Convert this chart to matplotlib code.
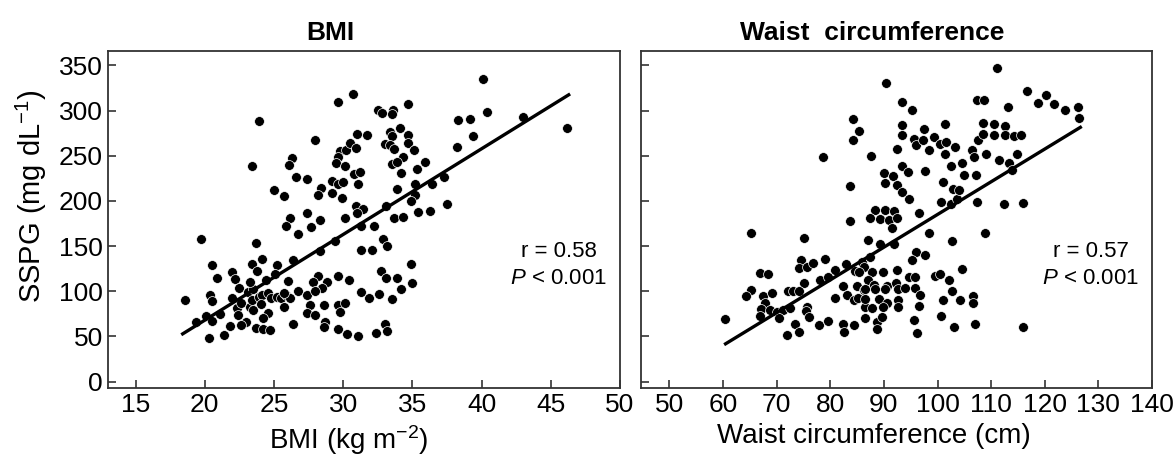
import matplotlib
matplotlib.use("Agg")
import matplotlib.pyplot as plt
from matplotlib import font_manager

# ---- data ----
# BMI panel (x in kg m-2, y = SSPG in mg/dL)
bmi_x = [23.9, 23.4, 26.3, 26.1, 26.6, 25.0, 25.7,
         40.1, 40.4, 39.2, 38.3, 39.4, 38.2, 30.7, 29.6, 34.7, 32.5, 32.8, 33.6, 33.5,
         34.1, 33.4, 33.5, 34.7, 34.7, 31.0, 31.7, 33.0, 33.4, 33.7, 35.1, 28.0, 29.8,
         30.2, 30.5, 30.9, 29.6, 29.5, 30.1, 34.3, 35.9, 33.5, 33.9, 34.2, 35.3, 30.8,
         31.2, 27.4, 28.4, 28.2, 29.2, 29.6, 30.0, 31.1, 29.2, 29.9, 33.9, 35.2, 36.4,
         37.3, 35.2, 34.9, 43.0, 46.2,
         26.15, 25.9, 26.75, 19.7, 23.7, 24.15, 23.4, 23.8, 25.25, 25.1, 26.4, 26.0,
         20.5, 20.9, 22.0, 22.2, 22.5, 24.4, 23.1, 23.5, 20.4, 20.5, 18.6, 22.0, 22.3,
         22.4, 22.65, 23.26, 23.4, 23.9, 24.1, 24.05, 24.6, 24.8, 25.2, 25.5, 25.9,
         26.15, 25.7, 24.6, 24.2, 23.0, 22.65, 21.8, 21.4, 20.3, 20.1, 20.5, 19.4,
         21.1, 23.7, 24.2, 24.7, 26.4, 23.5, 23.3, 25.7,
         27.4, 27.7, 28.3, 30.1, 30.9, 31.4, 31.0, 33.1, 33.7, 34.3, 35.4, 36.3, 37.5,
         29.4, 28.3, 31.3, 32.2, 32.9, 33.2, 31.3, 32.1, 34.9, 35.0, 32.7, 33.1, 33.9,
         34.2, 31.3, 31.9, 32.6, 33.5, 29.6, 30.4, 28.2, 27.8, 28.8, 28.5, 26.75, 27.4,
         28.0, 27.6, 28.6, 27.4, 28.0, 29.6, 30.1, 29.8, 28.7, 28.6, 29.6, 30.3, 31.1,
         32.4, 33.0, 33.2]
bmi_y = [288.5, 239, 248, 239.5, 226.5, 211.8, 205.2,
         335.3, 298.4, 291, 289, 271.5, 259.7, 318.7, 309.5, 307, 300.3, 297.3, 300.3, 295.9,
         280.8, 276.3, 271.5, 272.6, 264.2, 274.5, 272.6, 263.4, 261.6, 257.9, 256.8, 267.1, 255.3,
         256, 264.2, 259, 248.7, 242, 238.3, 248.7, 243.1, 241.3, 243, 231, 235.8, 230.2,
         232, 224, 214.7, 207, 222.1, 218.4, 221, 219.2, 208.8, 203.7, 213.6, 218.4, 218.4,
         226.5, 206.3, 200, 292.6, 280.5,
         181, 172.5, 163, 158, 153.5, 136, 129.7, 122.4, 128.6, 119.5, 134, 111,
         129.4, 115, 121, 114, 104, 112, 98.6, 102, 95.7, 89.5, 90.2, 92, 81,
         73.8, 86.6, 83, 90.2, 94, 95.7, 85.8, 97.5, 93, 94, 93, 95.7,
         92, 82.2, 75.6, 70, 66.4, 62.8, 61, 51.8, 48.2, 72, 67.5, 65.4,
         74.5, 59, 58, 57.3, 63.5, 79, 110.3, 98.2,
         187, 171, 179, 181, 194.5, 191, 187, 194.5, 181, 182, 188, 189, 197,
         156, 144, 172.5, 172.5, 158, 149.5, 146, 146, 130, 109, 122, 115, 115,
         102, 99, 93, 97, 91.5, 116.6, 112, 116.6, 110, 110, 104, 100.5, 96,
         100.5, 85, 85, 76, 74, 85, 87, 77.4, 66, 60, 58, 53, 50,
         54, 64, 55.5]
bmi_fit_x = [18.3, 46.4]
bmi_fit_y = [51.8, 318.4]

# Waist panel (x in cm, y = SSPG in mg/dL)
waist_x = [78.6, 83.7, 84.3, 84.3, 85.4, 87.5, 90.0, 90.2, 90.3, 91.7, 92.4, 92.4, 93.3,
           93.4, 93.4, 93.4, 93.4, 94.4, 94.6, 95.3, 95.7, 95.9, 97.2, 97.5, 97.7, 98.5,
           99.4, 100.5, 100.6, 101.4, 101.4, 101.1, 101.6, 102.5, 102.6, 102.8, 103.3,
           103.7, 104.0, 104.6, 104.9, 106.4, 106.8, 107.1, 107.4, 107.4, 108.7, 107.6,
           108.5, 108.5, 109.1, 110.6, 110.5, 111.0, 111.5, 112.6, 112.6, 112.4, 113.2,
           113.4, 113.9, 114.3, 115.6, 114.8, 116.0, 116.7, 118.7, 120.2, 121.8, 123.7,
           126.2, 126.4,
           60.4, 65.3, 83.7, 75.1, 66.8, 68.4, 74.5, 74.2, 75.6, 76.8, 79.1, 82.9, 80.8,
           85.9, 86.2, 84.6, 85.4, 75.0, 78.1, 79.6, 65.2, 64.3, 67.4, 69.2, 72.2, 73.1,
           74.2, 67.8, 67.1, 68.8, 70.0, 71.2, 72.5, 66.9, 70.4, 75.6, 75.4, 76.0, 73.4,
           71.9, 74.2, 77.9, 79.5, 80.9, 82.4, 83.1, 84.5, 85.2, 84.9, 86.2, 82.3, 82.6,
           84.5, 86.5,
           88.4, 90.2, 91.8, 87.4, 89.3, 90.9, 92.4, 91.5, 96.5, 98.4, 102.7, 108.8, 87.0,
           89.3, 91.8, 96.0, 95.2, 97.6, 87.4, 104.5, 99.6, 100.5, 102.2, 87.7, 89.9, 92.4,
           94.6, 95.8, 87.1, 88.1, 90.5, 92.2, 86.5, 88.4, 90.2, 92.7, 94.0, 95.8, 96.8,
           102.7, 101.1, 104.2, 106.7, 106.7, 86.5, 89.0, 90.5, 92.7, 87.7, 89.9, 92.7,
           96.5, 86.5, 88.7, 89.6, 88.7, 95.7, 96.1, 100.7, 103.0, 106.9, 115.9]
waist_y = [248.5, 216, 267.6, 290.8, 277.2, 249.6, 230.9, 219.9, 330, 227.2, 257.7, 217.3, 310,
           283.5, 272.4, 238.2, 209.9, 232, 202.6, 300.7, 268.8, 261.4, 266.9, 279.8, 233.1, 256.6,
           270.6, 263.2, 198.9, 284.6, 252.2, 221, 265, 196.3, 238.6, 213.6, 259.6,
           202.6, 211.8, 241.9, 228.3, 255.9, 248.5, 228.3, 198.9, 311.8, 311.8, 266.9,
           286, 274.3, 252.2, 285.3, 273.2, 346.7, 245.6, 282.4, 272.4, 197, 303.7,
           241.9, 234.6, 271.3, 273.2, 252.2, 198.2, 322, 308, 317.3, 307.4, 300.7,
           304.4, 291.9,
           68.7, 164.9, 177.8, 159.4, 120.7, 119.6, 135.1, 126.2, 126.9, 131.4, 136.2, 130.6, 124,
           132.5, 127, 122.5, 121.4, 109.2, 112.2, 115.2, 101.1, 94.5, 94.9, 97.5, 100.4, 100.4,
           100.4, 86.4, 79.8, 79, 77.2, 79, 80.9, 72.4, 69.8, 82.7, 77.9, 70.9, 63.5,
           51.4, 55.1, 62.4, 67.2, 93, 105.6, 95.6, 90.8, 93, 105.6, 101.1, 63.5, 55.1,
           62.4, 82.7,
           189.6, 190.4, 188.9, 181.5, 180.4, 179.3, 181.5, 170.5, 186.7, 164.9, 155.3, 164.9, 156.5,
           152.8, 152.8, 143.6, 135.1, 139.9, 138, 124.4, 116.6, 119.6, 112.2, 121.4, 121.4, 123.3,
           115.2, 115.9, 112.2, 106.7, 105.6, 109.3, 101.9, 101.9, 101.9, 101.9, 103, 103, 95.6,
           100.4, 90.8, 90.8, 94.5, 86.4, 91.9, 91.9, 87.1, 90.8, 80.9, 82, 82,
           83.4, 69.8, 66.1, 71.6, 58.7, 68, 54, 72.4, 59.9, 63.5, 59.9]
waist_fit_x = [60.2, 126.9]
waist_fit_y = [40.8, 282.4]

titles = ["BMI", "Waist  circumference"]
xlabels = [r"BMI (kg m$^{-2}$)", "Waist circumference (cm)"]
stats = [("0.58", "0.001"), ("0.57", "0.001")]
y_ticks = [0, 50, 100, 150, 200, 250, 300, 350]
bmi_ticks = [15, 20, 25, 30, 35, 40, 45, 50]
waist_ticks = [50, 60, 70, 80, 90, 100, 110, 120, 130, 140]

# ---- fonts ----
names = {f.name for f in font_manager.fontManager.ttflist}
narrow = "Liberation Sans Narrow" if "Liberation Sans Narrow" in names else "Liberation Sans"
plt.rcParams["font.family"] = [narrow, "DejaVu Sans"]
plt.rcParams["mathtext.fontset"] = "custom"
plt.rcParams["mathtext.rm"] = narrow
plt.rcParams["mathtext.it"] = narrow + ":italic"

fig = plt.figure(figsize=(11.73, 4.59), dpi=100)
ax1 = fig.add_axes([0.092, 0.155, 0.4365, 0.734])
ax2 = fig.add_axes([0.5465, 0.155, 0.4356, 0.734])

panels = [(ax1, bmi_x, bmi_y, bmi_fit_x, bmi_fit_y, (13.0, 50.0), bmi_ticks),
          (ax2, waist_x, waist_y, waist_fit_x, waist_fit_y, (44.7, 140.0), waist_ticks)]
title_x = [0.435, 0.452]
xlabel_x = [0.47, 0.455]

for i, (ax, xs, ys, fx, fy, xl, xt) in enumerate(panels):
    ax.scatter(xs, ys, s=50, c="black", edgecolors="white", linewidths=0.5, zorder=3)
    ax.plot(fx, fy, color="black", lw=2.4, zorder=4, solid_capstyle="butt")
    ax.set_xlim(*xl)
    ax.set_ylim(-7, 366)
    ax.set_xticks(xt)
    ax.set_yticks(y_ticks)
    ax.tick_params(direction="in", length=6, width=1.2, labelsize=19, color="#333333")
    for sp in ax.spines.values():
        sp.set_linewidth(1.3)
        sp.set_color("#333333")
    ax.set_xlabel(xlabels[i], fontsize=20)
    ax.xaxis.set_label_coords(xlabel_x[i], -0.104)
    ax.set_title(titles[i], fontsize=19, fontweight="bold", family="Liberation Sans",
                 x=title_x[i], pad=8)
    r, p = stats[i]
    ax.text(0.88, 0.365, "r = " + r + "\n$P$ < " + p, transform=ax.transAxes,
            ha="center", va="center", fontsize=16, linespacing=1.35)

ax1.set_ylabel(r"SSPG (mg dL$^{-1}$)", fontsize=21)
ax1.yaxis.set_label_coords(-0.115, 0.57)
ax2.tick_params(labelleft=False)

fig.savefig("out.png", dpi=100)
